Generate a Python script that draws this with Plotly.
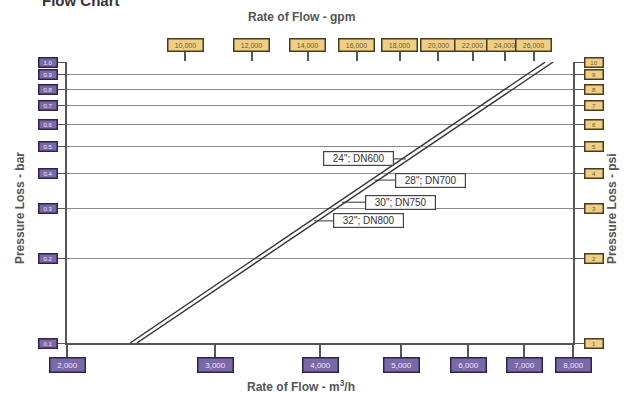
import numpy as np
import plotly.graph_objects as go

# ---- data ----
flow_m3h_ticks = [2000, 3000, 4000, 5000, 6000, 7000, 8000]
flow_m3h_labels = ["2,000", "3,000", "4,000", "5,000", "6,000", "7,000", "8,000"]
flow_gpm_ticks = [10000, 12000, 14000, 16000, 18000, 20000, 22000, 24000, 26000]
flow_gpm_labels = ["10,000", "12,000", "14,000", "16,000", "18,000",
                   "20,000", "22,000", "24,000", "26,000"]
bar_ticks = [0.1, 0.2, 0.3, 0.4, 0.5, 0.6, 0.7, 0.8, 0.9, 1.0]
bar_labels = ["0.1", "0.2", "0.3", "0.4", "0.5", "0.6", "0.7", "0.8", "0.9", "1.0"]
psi_ticks = [1, 2, 3, 4, 5, 6, 7, 8, 9, 10]
psi_labels = ["1", "2", "3", "4", "5", "6", "7", "8", "9", "10"]

line_pressure = [0.1, 1.0]          # bar
line_a_flow = [2377, 7415]          # m3/h
line_b_flow = [2422, 7578]          # m3/h

pipe_labels = ['24"; DN600', '28"; DN700', '30"; DN750', '32"; DN800']
pipe_label_pressure = [0.452, 0.380, 0.317, 0.272]
pipe_label_offset = [-47, 56, 59, 54]

gpm_range = [3.8594, 4.4615]

PURPLE_BG, PURPLE_BD, PURPLE_TX = "#7b68a8", "#2e2448", "#ece6ff"
GOLD_BG, GOLD_BD, GOLD_TX = "#efcf85", "#4a3d1d", "#6e5a28"
AXC = "#555555"

fig = go.Figure()
for fl in (line_a_flow, line_b_flow):
    fig.add_trace(go.Scatter(x=fl, y=line_pressure, mode="lines",
                             line=dict(color="#333333", width=1.4),
                             showlegend=False, hoverinfo="skip"))
fig.add_trace(go.Scatter(x=[flow_gpm_ticks[0]], y=[psi_ticks[0]], xaxis="x2", yaxis="y2",
                         mode="markers", marker=dict(opacity=0), showlegend=False,
                         hoverinfo="skip"))

ann = []
tickfont = dict(family="Liberation Sans, Arial", size=8)
C = dict(xanchor="center", yanchor="middle", showarrow=False)
for v, t in zip(flow_m3h_ticks, flow_m3h_labels):
    ann.append(dict(C, xref="x", yref="paper", x=np.log10(v), y=-0.079, text=t,
                    bgcolor=PURPLE_BG, bordercolor=PURPLE_BD, borderwidth=1.5,
                    width=32, height=11, font=dict(tickfont, color=PURPLE_TX)))
for v, t in zip(flow_gpm_ticks, flow_gpm_labels):
    ann.append(dict(C, xref="x2", yref="paper", x=np.log10(v), y=1.0605, text=t,
                    bgcolor=GOLD_BG, bordercolor=GOLD_BD, borderwidth=1.5,
                    width=32, height=9, font=dict(tickfont, size=7, color=GOLD_TX)))
for v, t in zip(bar_ticks, bar_labels):
    ann.append(dict(C, xref="paper", yref="y", x=-0.0385, y=np.log10(v), text=t,
                    bgcolor=PURPLE_BG, bordercolor=PURPLE_BD, borderwidth=1.5,
                    width=15, height=6, font=dict(tickfont, size=6, color=PURPLE_TX)))
for v, t in zip(psi_ticks, psi_labels):
    ann.append(dict(C, xref="paper", yref="y2", x=1.0415, y=np.log10(v), text=t,
                    bgcolor=GOLD_BG, bordercolor=GOLD_BD, borderwidth=1.5,
                    width=15, height=6, font=dict(tickfont, size=6, color=GOLD_TX)))

# pipe labels with leader lines to the line
la = np.log10(line_a_flow); lb = np.log10(line_b_flow); lp = np.log10(line_pressure)
mid = (la + lb) / 2
for t, p, off in zip(pipe_labels, pipe_label_pressure, pipe_label_offset):
    lx = np.interp(np.log10(p), lp, mid)
    ann.append(dict(xref="x", yref="y", x=lx, y=np.log10(p), text=t, showarrow=True,
                    arrowhead=0, arrowwidth=1, arrowcolor="#333333", ax=off, ay=0,
                    bgcolor="white", bordercolor="#444444", borderwidth=1.2, borderpad=1,
                    width=67, height=11,
                    font=dict(family="Liberation Sans, Arial", size=10, color="#333333")))

titlefont = dict(family="Liberation Sans, Arial", size=12, color=AXC, weight="bold")
ann += [
    dict(C, xref="paper", yref="paper", x=0.4625, y=1.16, text="Rate of Flow - gpm",
         font=titlefont),
    dict(C, xref="paper", yref="paper", x=0.4625, y=-0.153,
         text="Rate of Flow - m<sup>3</sup>/h", font=titlefont),
    dict(C, xref="paper", yref="paper", x=-0.093, y=0.48, text="Pressure Loss - bar",
         textangle=-90, font=titlefont),
    dict(C, xref="paper", yref="paper", x=1.077, y=0.48, text="Pressure Loss - psi",
         textangle=-90, font=titlefont),
    dict(xref="paper", yref="paper", x=-0.0534, y=1.1815, text="Flow Chart",
         xanchor="left", yanchor="bottom", showarrow=False,
         font=dict(family="Liberation Sans, Arial", size=15, color="#333333", weight="bold")),
]

fig.update_layout(
    width=631, height=393,
    margin=dict(l=67, r=58, t=62, b=50),
    paper_bgcolor="white", plot_bgcolor="white",
    showlegend=False,
    xaxis=dict(type="log", range=[np.log10(2000), np.log10(8000)], showgrid=False,
               zeroline=False, showline=True, linecolor=AXC, linewidth=1.5,
               tickmode="array", tickvals=flow_m3h_ticks, showticklabels=False,
               ticks="outside", ticklen=15, tickwidth=1.5, tickcolor=AXC),
    xaxis2=dict(type="log", range=gpm_range, overlaying="x", side="top", showgrid=False,
                zeroline=False, showline=False,
                tickmode="array", tickvals=flow_gpm_ticks, showticklabels=False,
                ticks="outside", ticklen=11, tickwidth=1.5, tickcolor=AXC),
    yaxis=dict(type="log", range=[-1, 0], showgrid=True, gridcolor="#8a8a8a", gridwidth=1,
               zeroline=False, showline=True, linecolor=AXC, linewidth=1.5,
               tickmode="array", tickvals=bar_ticks, showticklabels=False,
               ticks="outside", ticklen=10, tickwidth=1.2, tickcolor=AXC),
    yaxis2=dict(type="log", range=[0, 1], overlaying="y", side="right", showgrid=False,
                zeroline=False, showline=True, linecolor=AXC, linewidth=1.5,
                tickmode="array", tickvals=psi_ticks, showticklabels=False,
                ticks="outside", ticklen=12, tickwidth=1.2, tickcolor=AXC),
    annotations=ann,
)

fig.write_html("out.html", config={"displayModeBar": False},
               post_script="document.body.style.margin='0';document.body.style.padding='0';")
